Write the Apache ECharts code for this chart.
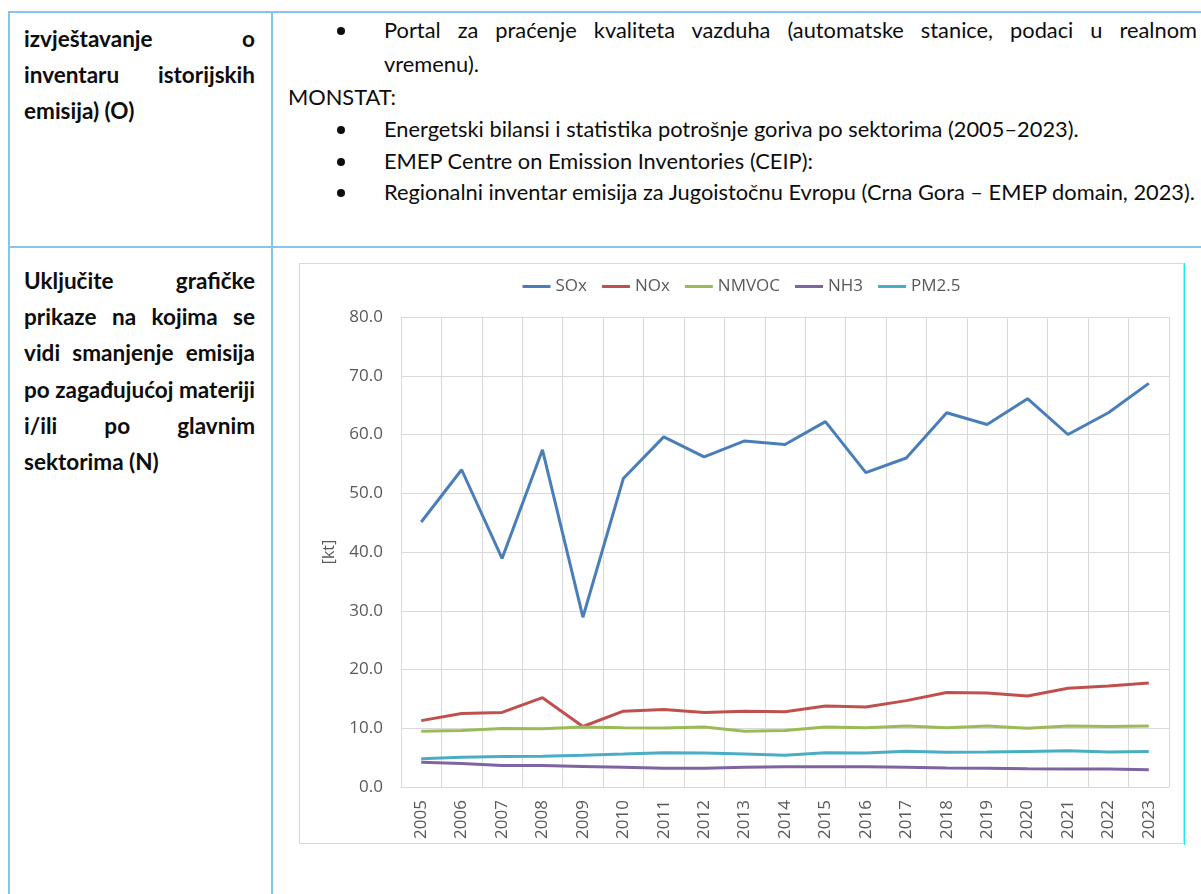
<!DOCTYPE html>
<html><head><meta charset="utf-8">
<script src="https://cdn.jsdelivr.net/npm/echarts@6/dist/echarts.min.js"></script>
<style>
html,body{margin:0;padding:0;background:#fff}
body{width:1201px;height:894px;position:relative;overflow:hidden;font-family:Lato,"Open Sans",sans-serif;color:#0d0d0d}
.b{position:absolute;background:#86c5ea}
.ln{position:absolute;white-space:nowrap;line-height:30px}
.bold{font-weight:700}
.j{text-align:justify;text-align-last:justify;white-space:normal}
.dot{position:absolute;width:8px;height:8px;border-radius:50%;background:#0d0d0d}
#frame{position:absolute;left:299px;top:263px;width:885px;height:581px;box-sizing:border-box;border:1px solid #d9d9d9}
#cyan{position:absolute;left:1184px;top:263px;width:1px;height:582px;background:#1de9f5}
#chart{position:absolute;left:0;top:0;width:883px;height:579px}
</style>
</head><body>
<!-- table borders -->
<div class="b" style="left:8px;top:11px;width:1193px;height:2px"></div>
<div class="b" style="left:8px;top:246px;width:1193px;height:2px"></div>
<div class="b" style="left:8px;top:11px;width:2px;height:883px"></div>
<div class="b" style="left:271px;top:11px;width:2px;height:883px"></div>

<div id="frame"><div id="chart"></div></div>
<div id="cyan"></div>

<script>
// ---------- text content ----------
const leftRow1 = ['izvještavanje o','inventaru istorijskih','emisija) (O)'];
const leftRow1Just = [true,true,false];
const leftRow2 = ['Uključite grafičke','prikaze na kojima se','vidi smanjenje emisija','po zagađujućoj materiji','i/ili po glavnim','sektorima (N)'];
const leftRow2Just = [true,true,true,true,true,false];
const rightLines = [
  {t:'Portal za praćenje kvaliteta vazduha (automatske stanice, podaci u realnom', x:384, w:813, b:38, j:true, dot:true},
  {t:'vremenu).', x:384, b:72},
  {t:'MONSTAT:', x:288, b:105},
  {t:'Energetski bilansi i statistika potrošnje goriva po sektorima (2005–2023).', x:384, b:137, dot:true},
  {t:'EMEP Centre on Emission Inventories (CEIP):', x:384, b:168.5, dot:true},
  {t:'Regionalni inventar emisija za Jugoistočnu Evropu (Crna Gora – EMEP domain, 2023).', x:384, b:200, dot:true}
];

// ---------- chart data ----------
const years = ['2005','2006','2007','2008','2009','2010','2011','2012','2013','2014','2015','2016','2017','2018','2019','2020','2021','2022','2023'];
const sox   = [45.1,54.0,38.9,57.4,28.9,52.5,59.6,56.2,58.9,58.3,62.2,53.5,56.0,63.7,61.7,66.1,60.0,63.7,68.7];
const nox   = [11.3,12.5,12.7,15.2,10.3,12.9,13.2,12.7,12.9,12.8,13.8,13.6,14.7,16.1,16.0,15.5,16.8,17.2,17.7];
const nmvoc = [9.5,9.6,9.95,9.9,10.2,10.1,10.05,10.2,9.5,9.6,10.2,10.1,10.4,10.1,10.4,10.0,10.4,10.3,10.4];
const nh3   = [4.2,4.0,3.65,3.65,3.5,3.35,3.2,3.2,3.35,3.45,3.45,3.45,3.35,3.25,3.2,3.1,3.05,3.05,2.95];
const pm25  = [4.8,5.05,5.2,5.25,5.4,5.6,5.85,5.8,5.6,5.4,5.85,5.8,6.1,5.9,5.95,6.05,6.15,5.95,6.05];
const seriesNames = ['SOx','NOx','NMVOC','NH3','PM2.5'];
const seriesColors = ['#4a7ebb','#c0504d','#9bbb59','#8064a2','#4bacc6'];
const yTicks = {min:0, max:80, interval:10};

// ---------- helpers ----------
function measure(text, font){
  const c = document.createElement('canvas').getContext('2d');
  c.font = font; return c.measureText(text).width;
}
function baselineOff(fontCss, lh){
  const d = document.createElement('div');
  d.style.cssText = 'position:absolute;top:0;left:0;white-space:nowrap;font:'+fontCss+';line-height:'+lh+'px';
  d.innerHTML = 'x<span style="display:inline-block;width:1px;height:0;vertical-align:baseline"></span>';
  document.body.appendChild(d);
  const off = d.querySelector('span').getBoundingClientRect().top;
  d.remove(); return off;
}
const fam = 'Lato, "Open Sans", sans-serif';
const rFs = 22 * 813 / measure(rightLines[5].t, '22px '+fam);
const lFs = 22 * 231 / measure('po zagađujućoj materiji', '700 22px '+fam);
const rOff = baselineOff(rFs+'px '+fam, 30);
const lOff = baselineOff('700 '+lFs+'px '+fam, 30);

function addLine(t, x, w, baseline, just, bold, fs, off){
  const d = document.createElement('div');
  d.className = 'ln' + (bold?' bold':'') + (just?' j':'');
  d.style.left = x+'px'; d.style.top = (baseline-off)+'px';
  d.style.fontSize = fs+'px';
  if (w) d.style.width = w+'px';
  d.textContent = t;
  document.body.appendChild(d);
}
leftRow1.forEach((t,i)=>addLine(t,24,231,47+i*36.2,leftRow1Just[i],true,lFs,lOff));
leftRow2.forEach((t,i)=>addLine(t,24,231,289+i*36.2,leftRow2Just[i],true,lFs,lOff));
rightLines.forEach(r=>{
  addLine(r.t, r.x, r.j?r.w:null, r.b, r.j, false, rFs, rOff);
  if (r.dot){
    const d=document.createElement('div'); d.className='dot';
    d.style.left=(341-4)+'px'; d.style.top=(r.b-11)+'px';
    document.body.appendChild(d);
  }
});

// ---------- chart ----------
const chart = echarts.init(document.getElementById('chart'), null, {renderer:'canvas'});
const dataArr = [sox,nox,nmvoc,nh3,pm25];
const txt = '#595959', grid = '#d9d9d9', cf = '"Open Sans", sans-serif';
chart.setOption({
  animation:false,
  color: seriesColors,
  legend:{
    top:9, left:'center', itemWidth:28, itemHeight:3, itemGap:15,
    icon:'rect',
    textStyle:{color:txt, fontSize:17, fontFamily:cf},
    data: seriesNames
  },
  grid:{left:101, top:53, right:14, bottom:56},
  xAxis:{
    type:'category', data:years, boundaryGap:true,
    axisLine:{show:true, lineStyle:{color:grid, width:1}},
    axisTick:{show:false},
    splitLine:{show:true, lineStyle:{color:grid, width:1}},
    axisLabel:{rotate:90, color:txt, fontSize:17, fontFamily:cf, margin:13, interval:0}
  },
  yAxis:{
    type:'value', min:yTicks.min, max:yTicks.max, interval:yTicks.interval,
    name:'[kt]', nameLocation:'middle', nameRotate:90, nameGap:64,
    nameTextStyle:{color:txt, fontSize:16, fontFamily:cf},
    axisLine:{show:false}, axisTick:{show:false},
    splitLine:{lineStyle:{color:grid, width:1}},
    axisLabel:{color:txt, fontSize:17, fontFamily:cf, margin:18, formatter:v=>v.toFixed(1)}
  },
  series: seriesNames.map((n,i)=>({
    name:n, type:'line', data:dataArr[i], symbol:'none', smooth:false,
    lineStyle:{width:3, color:seriesColors[i]}
  }))
});
</script>
</body></html>
